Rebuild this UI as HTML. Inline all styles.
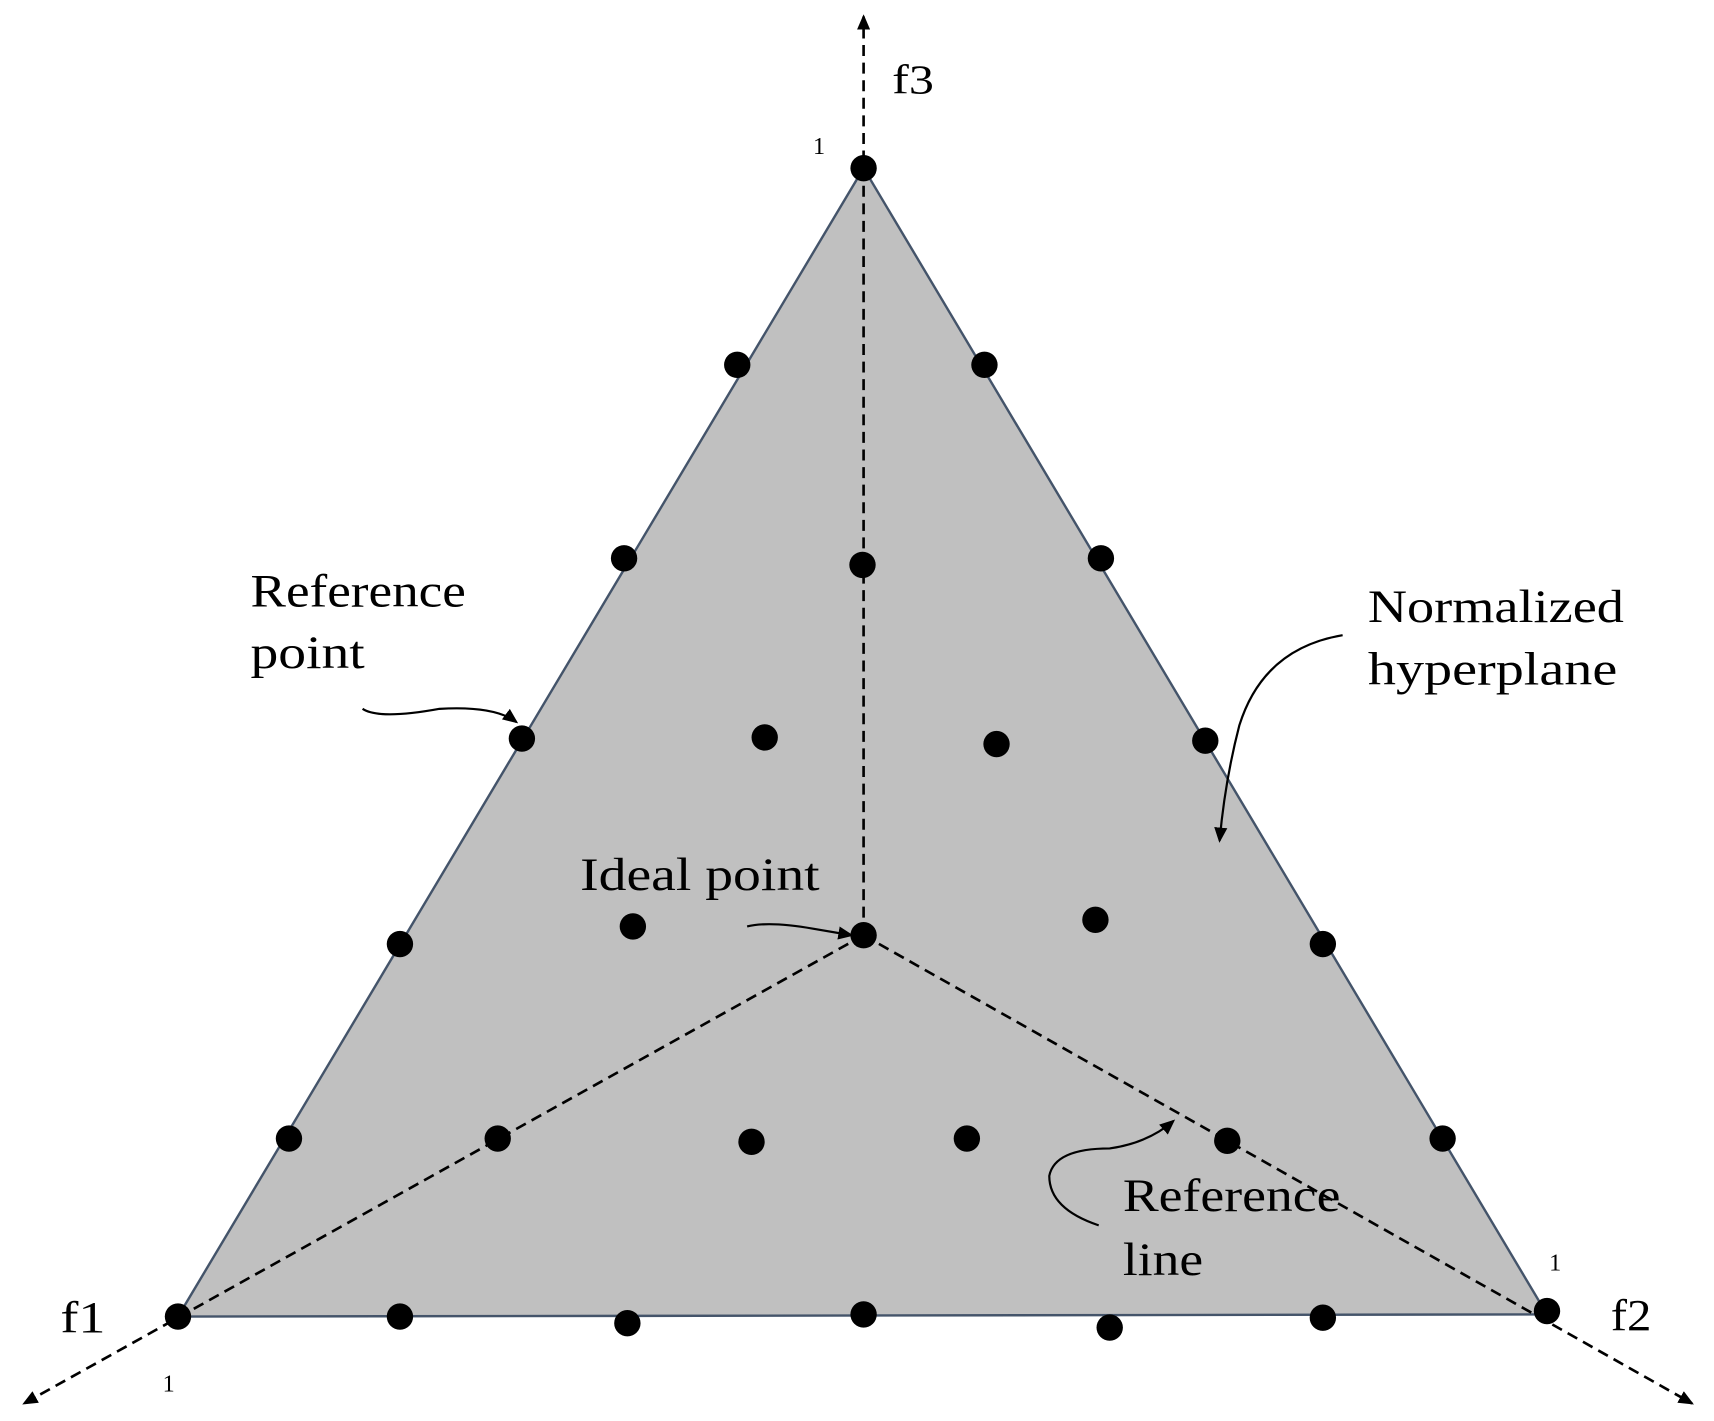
<!DOCTYPE html>
<html><head><style>html,body{margin:0;padding:0;background:#fff}svg{display:block}</style></head><body>
<svg width="1714" height="1421" viewBox="0 0 1560 1293" preserveAspectRatio="none" xmlns="http://www.w3.org/2000/svg">
<defs><marker id="a" markerWidth="14" markerHeight="12" refX="12" refY="6" orient="auto" markerUnits="userSpaceOnUse"><path d="M0,0 L14,6 L0,12 Z" fill="#000"/></marker>
<marker id="b" markerWidth="14" markerHeight="12" refX="12" refY="6" orient="auto" markerUnits="userSpaceOnUse"><path d="M0,0 L14,6 L0,12 Z" fill="#000"/></marker></defs>
<polygon points="786,153 162,1198 1408,1196" fill="#c0c0c0" stroke="#44546a" stroke-width="2.2"/>
<g stroke="#000" stroke-width="2.4" stroke-dasharray="10,6" fill="none">
<line x1="786" y1="851" x2="786" y2="15" marker-end="url(#a)"/>
<line x1="786" y1="851" x2="22" y2="1277" marker-end="url(#a)"/>
<line x1="786" y1="851" x2="1540" y2="1277" marker-end="url(#a)"/>
</g>
<g fill="#000">
<circle cx="786" cy="153" r="12"/><circle cx="162" cy="1198" r="12"/><circle cx="1408" cy="1193" r="12"/><circle cx="786" cy="851" r="12"/>
<circle cx="671" cy="332" r="12"/><circle cx="896" cy="332" r="12"/><circle cx="568" cy="508" r="12"/><circle cx="785" cy="514" r="12"/><circle cx="1002" cy="508" r="12"/>
<circle cx="475" cy="672" r="12"/><circle cx="696" cy="671" r="12"/><circle cx="907" cy="677" r="12"/><circle cx="1097" cy="674" r="12"/>
<circle cx="364" cy="859" r="12"/><circle cx="576" cy="843" r="12"/><circle cx="997" cy="837" r="12"/><circle cx="1204" cy="859" r="12"/>
<circle cx="263" cy="1036" r="12"/><circle cx="453" cy="1036" r="12"/><circle cx="684" cy="1039" r="12"/><circle cx="880" cy="1036" r="12"/><circle cx="1117" cy="1038" r="12"/><circle cx="1313" cy="1036" r="12"/>
<circle cx="364" cy="1198" r="12"/><circle cx="571" cy="1204" r="12"/><circle cx="786" cy="1196" r="12"/><circle cx="1010" cy="1208" r="12"/><circle cx="1204" cy="1199" r="12"/>
</g>
<g stroke="#000" stroke-width="2" fill="none">
<path d="M330,645 Q345,655 400,645 Q450,642 470,657" marker-end="url(#b)"/>
<path d="M1222,578 Q1150,590 1128,660 Q1115,710 1110,765" marker-end="url(#b)"/>
<path d="M680,843 Q700,838 740,845 L775,851" marker-end="url(#b)"/>
<path d="M1000,1115 Q955,1100 955,1070 Q960,1045 1010,1045 Q1045,1040 1068,1020" marker-end="url(#b)"/>
</g>
<g font-family="Liberation Serif, serif" fill="#000" lengthAdjust="spacingAndGlyphs">
<text x="812" y="85" font-size="38" textLength="38" lengthAdjust="spacingAndGlyphs">f3</text>
<text x="740" y="140" font-size="22">1</text>
<text x="228" y="552" font-size="42" textLength="196" lengthAdjust="spacingAndGlyphs">Reference</text>
<text x="228" y="608" font-size="42" textLength="104" lengthAdjust="spacingAndGlyphs">point</text>
<text x="1245" y="566" font-size="42" textLength="233" lengthAdjust="spacingAndGlyphs">Normalized</text>
<text x="1245" y="623" font-size="42" textLength="227" lengthAdjust="spacingAndGlyphs">hyperplane</text>
<text x="528" y="810" font-size="42" textLength="218" lengthAdjust="spacingAndGlyphs">Ideal point</text>
<text x="1022" y="1102" font-size="42" textLength="198" lengthAdjust="spacingAndGlyphs">Reference</text>
<text x="1022" y="1160" font-size="42" textLength="73" lengthAdjust="spacingAndGlyphs">line</text>
<text x="55" y="1212" font-size="40" textLength="41" lengthAdjust="spacingAndGlyphs">f1</text>
<text x="1466" y="1210" font-size="40" textLength="37" lengthAdjust="spacingAndGlyphs">f2</text>
<text x="148" y="1266" font-size="22">1</text>
<text x="1410" y="1156" font-size="22">1</text>
</g>
</svg>
</body></html>
